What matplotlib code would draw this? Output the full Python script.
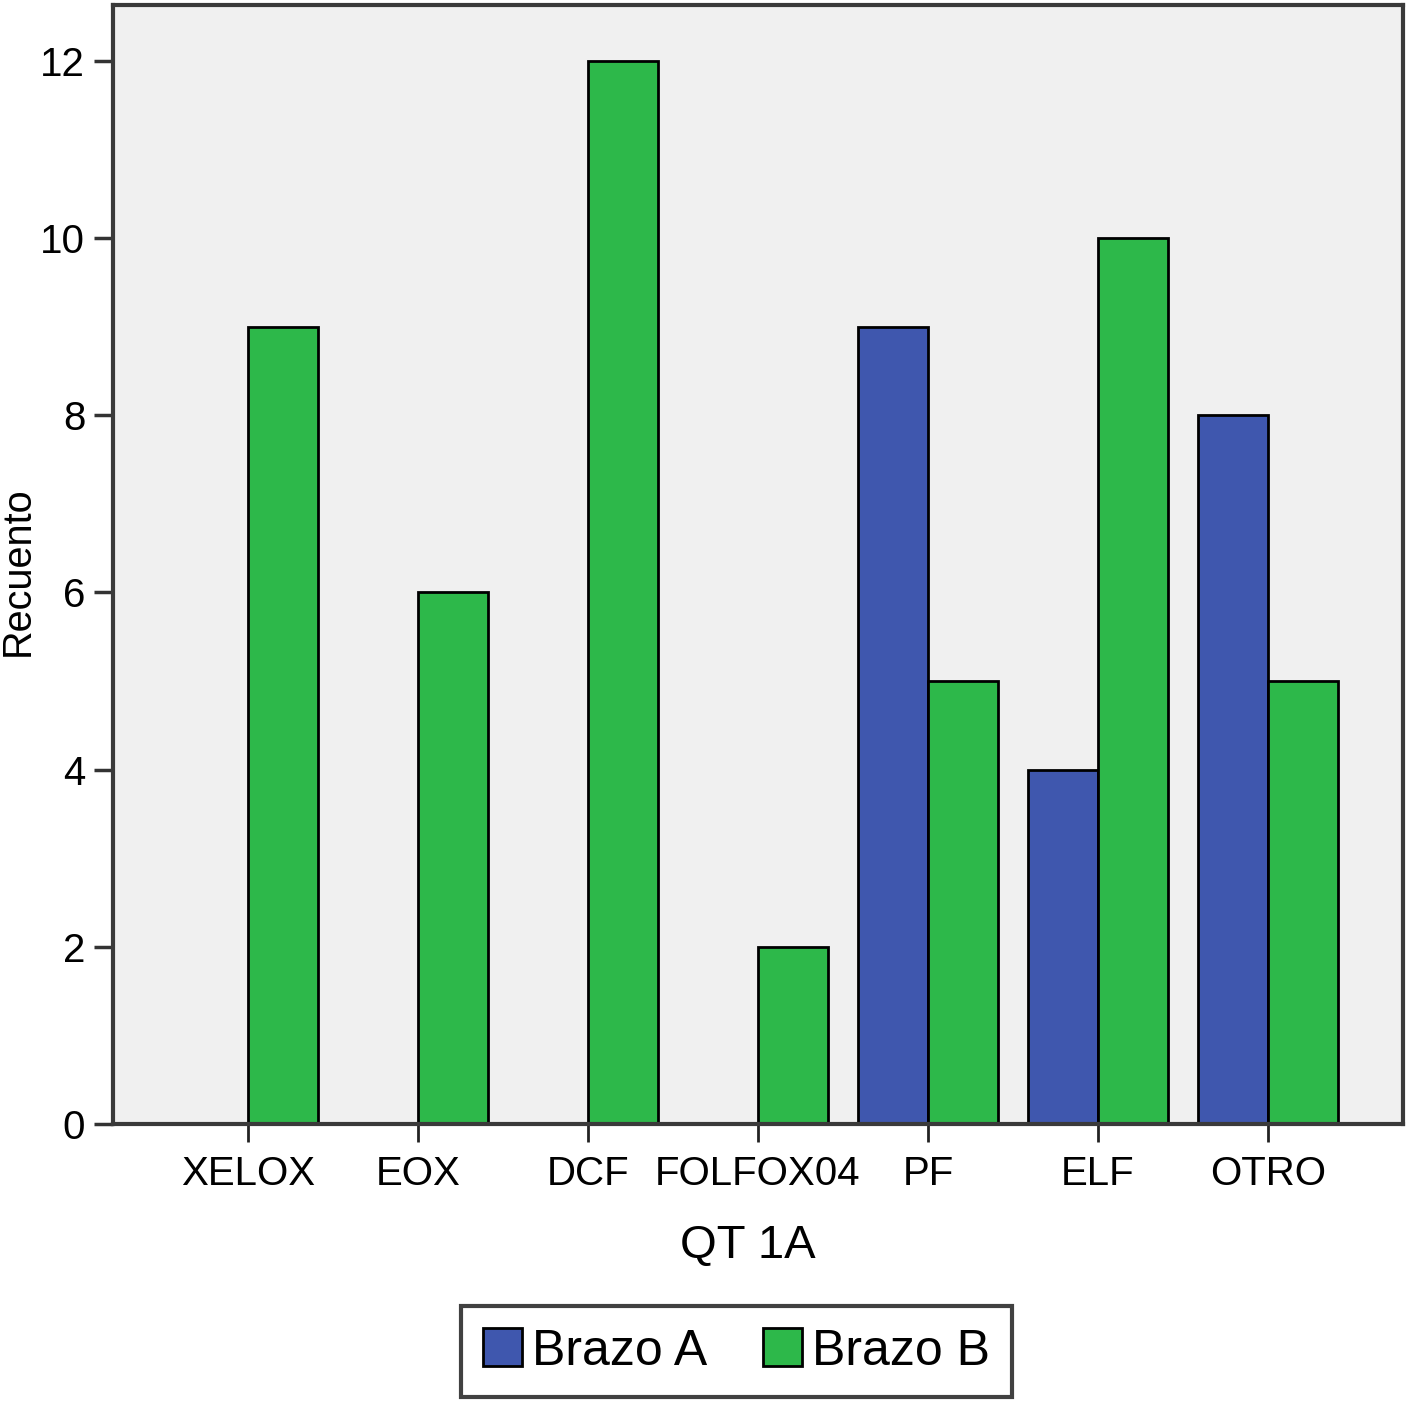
import numpy as np
import matplotlib.pyplot as plt
from matplotlib.patches import Patch

plt.rcParams['font.family'] = ['Liberation Sans', 'DejaVu Sans']

# Datos del grafico
categorias = ["XELOX", "EOX", "DCF", "FOLFOX04", "PF", "ELF", "OTRO"]
brazo_a = [0, 0, 0, 0, 9, 4, 8]
brazo_b = [9, 6, 12, 2, 5, 10, 5]

color_a = "#3F57AE"
color_b = "#2DB84A"

fig = plt.figure(figsize=(14.06, 14.02), dpi=100)
ax = fig.add_axes([113 / 1406, 1 - 1124 / 1402, (1403 - 113) / 1406, (1124 - 5) / 1402])
ax.set_facecolor("#F0F0F0")

x = np.arange(len(categorias))
w = 70 / 170

# Brazo A only drawn where there is a count
for i, v in enumerate(brazo_a):
    if v > 0:
        ax.bar(x[i] - w / 2, v, w, color=color_a, edgecolor="black", linewidth=2)
ax.bar(x + w / 2, brazo_b, w, color=color_b, edgecolor="black", linewidth=2)

ax.set_xlim(-0.794, 6.794)
ax.set_ylim(0, 12.63)
ax.set_yticks([0, 2, 4, 6, 8, 10, 12])
ax.set_xticks(x)
ax.set_xticklabels(categorias)

ax.tick_params(axis="y", labelsize=29, length=14, width=2.5, pad=6, color="#333333")
ax.tick_params(axis="x", labelsize=29, length=13, width=2, pad=9, color="#222222")

for s in ax.spines.values():
    s.set_color("#3a3a3a")
    s.set_linewidth(3)

ax.set_xlabel("QT 1A", fontsize=34)
ax.xaxis.set_label_coords(0.492, -0.089)
ax.set_ylabel("Recuento", fontsize=28.5)
ax.yaxis.set_label_coords(-0.059, 0.494)

handles = [Patch(facecolor=color_a, edgecolor="black", linewidth=2, label="Brazo A"),
           Patch(facecolor=color_b, edgecolor="black", linewidth=2, label="Brazo B")]
leg = fig.legend(handles=handles, loc="center", bbox_to_anchor=(736.5 / 1406, 1 - 1351.5 / 1402),
                 ncol=2, fontsize=36, frameon=True, fancybox=False, handlelength=0.78,
                 handleheight=0.78, handletextpad=0.2, columnspacing=1.1, borderpad=0.45,
                 borderaxespad=0)
leg.get_frame().set_edgecolor("#111111")
leg.get_frame().set_linewidth(3)

plt.savefig("out.png", dpi=100)
